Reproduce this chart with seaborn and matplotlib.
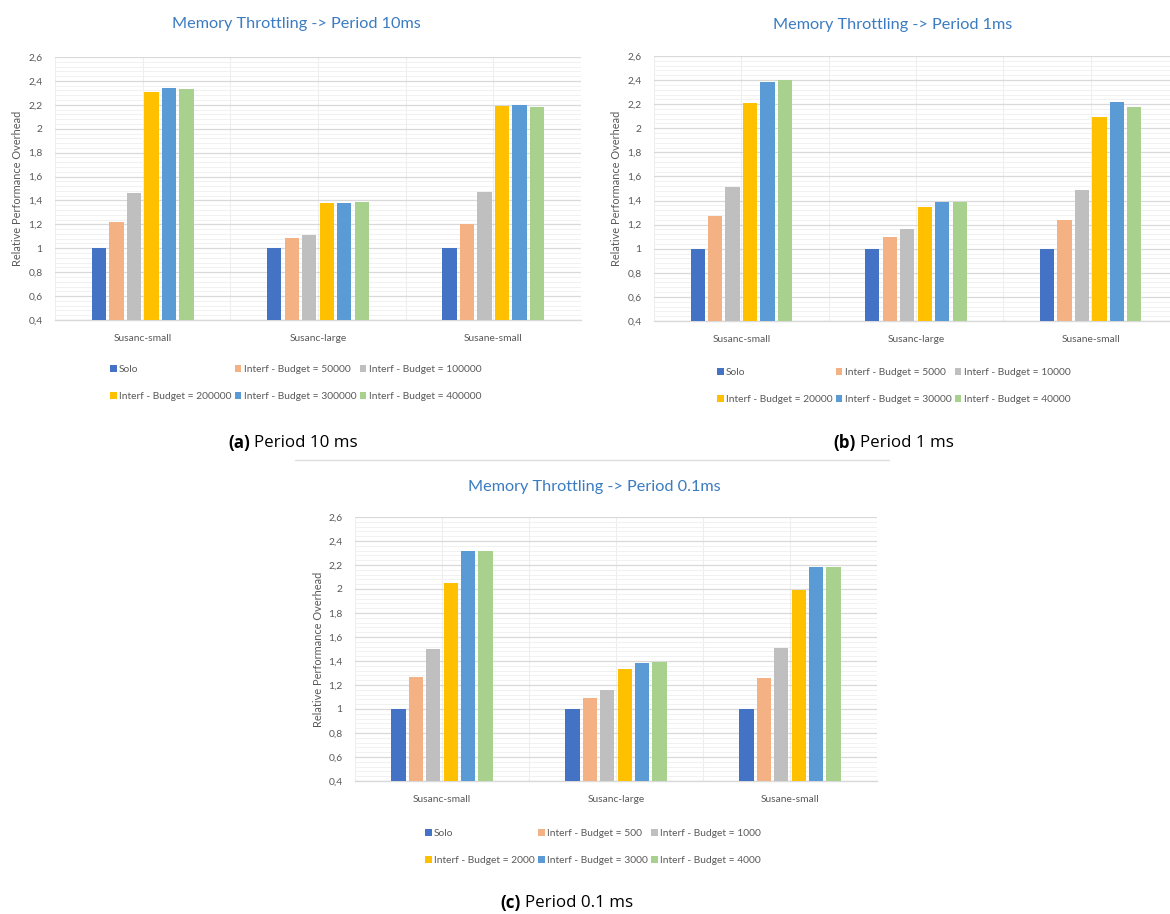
import matplotlib
matplotlib.use("Agg")
import matplotlib.pyplot as plt
import numpy as np
import pandas as pd
import seaborn as sns
from matplotlib.ticker import MultipleLocator, FuncFormatter

# ---------------------------------------------------------------- data
benchmarks = ["Susanc-small", "Susanc-large", "Susane-small"]
series_colors = ["#4472C4", "#F4B183", "#BFBFBF", "#FFC000", "#5B9BD5", "#A9D18E"]

# Period 10 ms
p10_budgets = ["50000", "100000", "200000", "300000", "400000"]
p10_solo = [1.00, 1.00, 1.00]
p10_b1 = [1.22, 1.09, 1.20]
p10_b2 = [1.46, 1.11, 1.47]
p10_b3 = [2.31, 1.38, 2.19]
p10_b4 = [2.34, 1.38, 2.20]
p10_b5 = [2.33, 1.39, 2.18]

# Period 1 ms
p1_budgets = ["5000", "10000", "20000", "30000", "40000"]
p1_solo = [1.00, 1.00, 1.00]
p1_b1 = [1.27, 1.10, 1.24]
p1_b2 = [1.51, 1.16, 1.49]
p1_b3 = [2.21, 1.35, 2.09]
p1_b4 = [2.38, 1.39, 2.22]
p1_b5 = [2.40, 1.39, 2.18]

# Period 0.1 ms
p01_budgets = ["500", "1000", "2000", "3000", "4000"]
p01_solo = [1.00, 1.00, 1.00]
p01_b1 = [1.27, 1.09, 1.26]
p01_b2 = [1.50, 1.16, 1.51]
p01_b3 = [2.05, 1.33, 1.99]
p01_b4 = [2.32, 1.38, 2.18]
p01_b5 = [2.32, 1.39, 2.18]

y_min, y_max = 0.4, 2.6

# ---------------------------------------------------------------- styling
sns.set_theme(style="white")
plt.rcParams["font.family"] = ["Lato", "DejaVu Sans"]

W, H = 1170, 914
fig = plt.figure(figsize=(W / 100, H / 100), dpi=100)
fig.patch.set_facecolor("white")

TXT_GREY = "#595959"
TITLE_BLUE = "#3A7BC1"
CAPTION_FONT = ["Open Sans", "DejaVu Sans"]


def fx(px):
    return px / W


def fy(py):
    return 1 - py / H


def tick_fmt(v, _pos):
    s = ("%.1f" % v).rstrip("0").rstrip(".")
    return s.replace(".", ",")


def panel(rect, solo, budget_vals, budget_names, title, title_xy,
          ylabel_x, legend_xy, tag, caption, caption_xy):
    left, top, right, bottom = rect
    ax = fig.add_axes([fx(left), fy(bottom), (right - left) / W, (bottom - top) / H])

    names = ["Solo"] + ["Interf - Budget = " + b for b in budget_names]
    rows = []
    for name, vals in zip(names, [solo] + budget_vals):
        for bench, v in zip(benchmarks, vals):
            rows.append({"benchmark": bench, "series": name, "value": v})
    df = pd.DataFrame(rows)

    sns.barplot(data=df, x="benchmark", y="value", hue="series",
                hue_order=names, order=benchmarks, palette=series_colors,
                saturation=1, width=0.6, gap=0.18, ax=ax, legend=True,
                linewidth=0, zorder=3)

    ax.set_ylim(y_min, y_max)
    ax.set_xlim(-0.5, len(benchmarks) - 0.5)
    ax.yaxis.set_major_locator(MultipleLocator(0.2))
    ax.yaxis.set_minor_locator(MultipleLocator(0.04))
    ax.yaxis.set_major_formatter(FuncFormatter(tick_fmt))
    ax.grid(axis="y", which="major", color="#D9D9D9", lw=0.9, zorder=0)
    ax.grid(axis="y", which="minor", color="#F1F1F1", lw=0.7, zorder=0)
    for xv in np.arange(-0.5, len(benchmarks), 0.5):
        ax.axvline(xv, color="#EEEEEE", lw=0.8, zorder=0)
    for s in ["top", "right", "left"]:
        ax.spines[s].set_visible(False)
    ax.spines["bottom"].set_color("#D9D9D9")
    ax.spines["bottom"].set_linewidth(1.0)
    ax.tick_params(axis="both", length=0, labelsize=7.4, colors=TXT_GREY)
    ax.tick_params(axis="y", pad=9)
    ax.tick_params(axis="x", pad=10)
    ax.set_xlabel("")
    ax.set_ylabel("")

    fig.text(fx(ylabel_x), fy((top + bottom) / 2), "Relative Performance Overhead",
             rotation=90, ha="center", va="center", fontsize=7.9, color=TXT_GREY)

    fig.text(fx(title_xy[0]), fy(title_xy[1]), title, ha="center", va="center",
             fontsize=11.7, color=TITLE_BLUE)

    handles, labels = ax.get_legend_handles_labels()
    ax.get_legend().remove()
    order = [0, 3, 1, 4, 2, 5]
    fig.legend([handles[i] for i in order], [labels[i] for i in order],
               loc="upper left", bbox_to_anchor=(fx(legend_xy[0]), fy(legend_xy[1])),
               ncol=3, frameon=False, fontsize=7.4, labelcolor=TXT_GREY,
               handlelength=0.64, handleheight=0.64, handletextpad=0.25,
               columnspacing=0.3, labelspacing=1.75, borderpad=0, borderaxespad=0)

    cx, cy = caption_xy
    fig.text(fx(cx), fy(cy), tag, ha="right", va="center", fontsize=12.2,
             fontweight="bold", color="black", family=CAPTION_FONT)
    fig.text(fx(cx + 4), fy(cy), caption, ha="left", va="center", fontsize=12.2,
             color="black", family=CAPTION_FONT)
    return ax


panel((55, 57, 581, 320), p10_solo, [p10_b1, p10_b2, p10_b3, p10_b4, p10_b5],
      p10_budgets, "Memory Throttling -> Period 10ms", (296, 24), 18,
      (110, 365), "(a)", "Period 10 ms", (250, 443))

panel((654, 56, 1178, 321), p1_solo, [p1_b1, p1_b2, p1_b3, p1_b4, p1_b5],
      p1_budgets, "Memory Throttling -> Period 1ms", (893, 25), 617,
      (717, 368), "(b)", "Period 1 ms", (856, 443))

panel((355, 517, 877, 781), p01_solo, [p01_b1, p01_b2, p01_b3, p01_b4, p01_b5],
      p01_budgets, "Memory Throttling -> Period 0.1ms", (594, 487), 318,
      (425, 829), "(c)", "Period 0.1 ms", (521, 903))

# thin rule separating the top row from the bottom panel
fig.add_artist(plt.Line2D([fx(295), fx(889)], [fy(460), fy(460)],
                          color="#DEDEDE", lw=1.0))

fig.savefig("out.png", dpi=100, facecolor="white")
